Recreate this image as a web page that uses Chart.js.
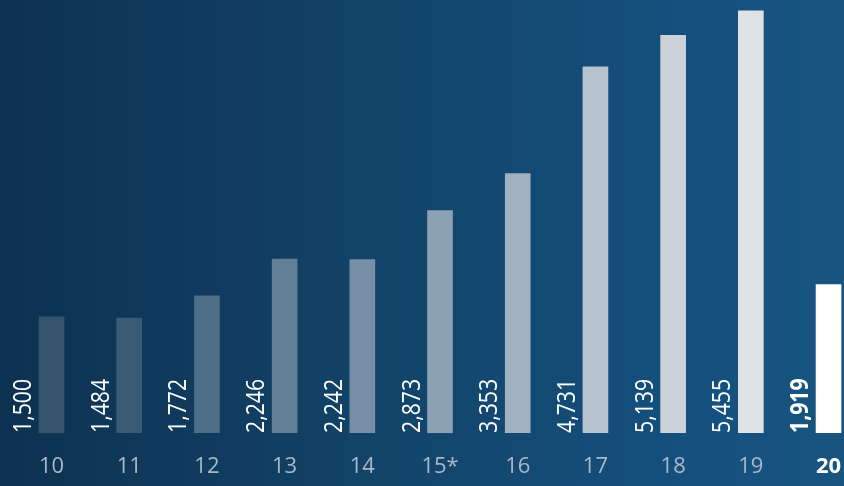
<!DOCTYPE html>
<html>
<head>
<meta charset="utf-8">
<script src="https://cdn.jsdelivr.net/npm/chart.js@4/dist/chart.umd.min.js"></script>
<style>
  html, body { margin: 0; padding: 0; }
  body {
    width: 844px; height: 486px; overflow: hidden;
    background: linear-gradient(to right, #0d3150 0%, #124469 45%, #155180 85%, #17557f 100%);
  }
  canvas { display: block; }
</style>
</head>
<body>
<canvas id="chart" width="844" height="486"></canvas>
<script>
// years shown on the axis
const yearLabels = ['10', '11', '12', '13', '14', '15*', '16', '17', '18', '19', '20'];
const values = [1500, 1484, 1772, 2246, 2242, 2873, 3353, 4731, 5139, 5455, 1919];
const barColors = ['#34546d', '#3b5b75', '#4f6e87', '#637f96', '#778fa6', '#8ca2b4',
                   '#a1b1c0', '#b7c3cf', '#cbd2da', '#e1e2e4', '#ffffff'];

const lastIdx = yearLabels.length - 1;

// vertical value labels drawn to the left of each bar
const valueLabels = {
    id: 'valueLabels',
    afterDatasetsDraw(chart) {
        const ctx = chart.ctx;
        const base = chart.scales.y.getPixelForValue(0);
        chart.getDatasetMeta(0).data.forEach((bar, i) => {
            ctx.save();
            ctx.translate(bar.x - bar.width / 2 - 8, base);
            ctx.rotate(-Math.PI / 2);
            ctx.scale(0.85, 1);
            ctx.fillStyle = '#ffffff';
            ctx.font = (i === lastIdx ? 'bold ' : '') + '25px "Open Sans"';
            ctx.textAlign = 'left';
            ctx.textBaseline = 'alphabetic';
            ctx.fillText(values[i].toLocaleString('en-US'), 0, 0);
            ctx.restore();
        });
    }
};

new Chart(document.getElementById('chart'), {
    type: 'bar',
    data: {
        datasets: [{
            data: values.map((v, i) => ({x: i, y: v})),
            backgroundColor: barColors,
            barThickness: 25,
            borderWidth: 0
        }]
    },
    options: {
        responsive: false,
        animation: false,
        layout: {padding: 0},
        plugins: {legend: {display: false}, tooltip: {enabled: false}},
        scales: {
            x: {
                type: 'linear',
                offset: false,
                min: -0.663,
                max: 10.199,
                grid: {display: false, drawTicks: false},
                border: {display: false},
                afterBuildTicks: (scale) => {
                    scale.ticks = yearLabels.map((l, i) => ({value: i}));
                },
                afterFit: (scale) => {
                    scale.height = 53;
                    scale.paddingLeft = 0;
                    scale.paddingRight = 0;
                },
                ticks: {
                    autoSkip: false,
                    maxRotation: 0,
                    padding: 21,
                    callback: (v) => yearLabels[v],
                    color: (c) => c.index === lastIdx ? '#ffffff' : '#a9b8c7',
                    font: (c) => ({family: '"Open Sans"', size: 22, weight: c.index === lastIdx ? 'bold' : 'normal'})
                }
            },
            y: {
                display: false,
                min: 0,
                max: 5595
            }
        }
    },
    plugins: [valueLabels]
});
</script>
</body>
</html>
